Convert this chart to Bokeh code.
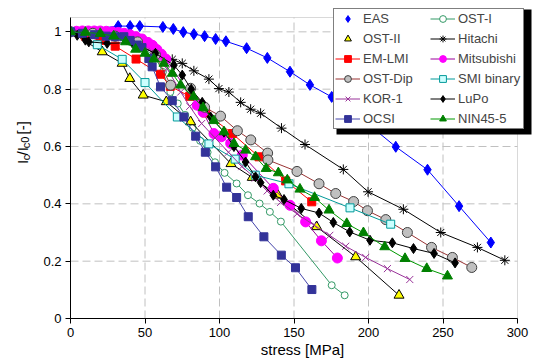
from bokeh.plotting import figure
from bokeh.layouts import row
from bokeh.models import Range1d, FixedTicker, Legend, LegendItem, Label, BoxAnnotation
from bokeh.embed import file_html
from bokeh.resources import INLINE

# ---------------- data ----------------
eas_x = [0, 32, 40, 46.5, 62, 69, 75.7, 82.8, 90, 97.4, 104.3, 118.2, 132.1, 147.3, 160.7, 175.3, 197, 218.3, 239.6, 260.8, 282.1]
eas_y = [1.0, 1.02, 1.02, 1.02, 1.017, 1.01, 0.999, 0.992, 0.985, 0.975, 0.967, 0.943, 0.909, 0.861, 0.815, 0.773, 0.69, 0.599, 0.519, 0.392, 0.265]

osti_x = [0, 10, 20, 30, 40, 50, 57, 62, 67, 72, 77, 82, 87, 92, 97, 103.4, 111.5, 119.1, 126.9, 133.8, 141.2, 175.3, 184.0]
osti_y = [1.0, 0.995, 0.99, 0.98, 0.965, 0.94, 0.91, 0.86, 0.79, 0.75, 0.71, 0.665, 0.62, 0.58, 0.545, 0.508, 0.471, 0.43, 0.401, 0.372, 0.338, 0.116, 0.081]

ostii_x = [0, 21.3, 34.7, 39.8, 48.8, 64.3, 80.6, 107.7, 122, 139.2, 165.2, 191.4, 220.5]
ostii_y = [1.0, 0.93, 0.89, 0.837, 0.779, 0.756, 0.686, 0.54, 0.492, 0.43, 0.32, 0.215, 0.081]

hit_x = [0, 20, 40, 50, 60.4, 68.3, 75, 82.8, 92.9, 99.6, 106.3, 114.2, 120.9, 127.6, 141.6, 157.4, 183.1, 199.7, 223.4, 248.5, 273.1, 291.5]
hit_y = [1.0, 0.99, 0.975, 0.955, 0.925, 0.904, 0.89, 0.864, 0.835, 0.802, 0.79, 0.754, 0.73, 0.716, 0.664, 0.607, 0.52, 0.442, 0.381, 0.30, 0.248, 0.203]

emlmi_x = [0, 10, 20, 30, 44, 60.4, 67, 80, 90.7, 108.6, 126.5, 144.4, 161.9]
emlmi_y = [1.0, 0.985, 0.97, 0.95, 0.905, 0.852, 0.81, 0.775, 0.717, 0.645, 0.564, 0.48, 0.407]

mit_x = [0, 4, 8, 12, 16, 20, 24, 28, 32, 36, 40, 44, 48, 52, 55, 58, 61, 64, 85, 89, 96.3, 101.2, 107.5, 115.3, 136.1, 147.3, 157.8, 168.4, 179.1]
mit_y = [1.0, 1.002, 1.003, 1.003, 1.003, 1.003, 1.002, 1.0, 0.998, 0.995, 0.99, 0.983, 0.975, 0.963, 0.953, 0.938, 0.922, 0.905, 0.744, 0.72, 0.645, 0.634, 0.611, 0.57, 0.454, 0.395, 0.337, 0.271, 0.211]

dip_x = [0, 15, 30, 45, 57, 67.2, 80.6, 90, 100.7, 112, 121, 132.3, 132.5, 152, 166.8, 178, 190, 199.3, 211.6, 226.1, 242.3, 256.3, 269.3]
dip_y = [1.0, 0.995, 0.985, 0.965, 0.92, 0.814, 0.803, 0.737, 0.706, 0.655, 0.623, 0.577, 0.553, 0.513, 0.47, 0.436, 0.408, 0.376, 0.345, 0.30, 0.248, 0.213, 0.178]

smi_x = [0, 18, 34.7, 50, 71.7, 92.9, 110.5, 124, 146.6, 187.6, 214.9]
smi_y = [1.0, 0.955, 0.904, 0.823, 0.703, 0.609, 0.556, 0.50, 0.47, 0.386, 0.329]

kor_x = [0, 20, 40, 55, 65, 74, 80, 88, 97, 106, 115, 124, 132, 141, 152, 163.4, 174, 184.7, 198.1, 212.7, 227.7]
kor_y = [1.0, 0.99, 0.97, 0.93, 0.87, 0.79, 0.74, 0.68, 0.63, 0.58, 0.53, 0.49, 0.445, 0.405, 0.365, 0.326, 0.29, 0.252, 0.213, 0.174, 0.136]

lupo_x = [0, 4.5, 10, 12.3, 24.6, 41.4, 57, 69.4, 75, 81, 88.4, 94, 103, 109.7, 117.5, 124.2, 127.6, 136.1, 143.3, 154.9, 166.8, 176.4, 187.4, 201, 216, 230.2, 244, 258.1]
lupo_y = [1.0, 0.988, 0.971, 0.965, 0.96, 0.962, 0.925, 0.884, 0.849, 0.80, 0.754, 0.703, 0.65, 0.60, 0.546, 0.494, 0.474, 0.43, 0.415, 0.384, 0.368, 0.335, 0.302, 0.273, 0.264, 0.244, 0.227, 0.194]

ocsi_x = [0, 8, 16, 24, 30, 35.8, 40, 44.8, 48, 52.6, 54.8, 60.4, 68.3, 76.1, 84, 90.5, 97.4, 104.8, 111.5, 119.3, 129.8, 141.5, 151, 162]
ocsi_y = [1.0, 0.995, 0.99, 0.985, 0.983, 0.983, 0.97, 0.954, 0.945, 0.907, 0.878, 0.808, 0.76, 0.703, 0.636, 0.58, 0.529, 0.458, 0.422, 0.355, 0.285, 0.221, 0.177, 0.101]

nin_x = [0, 10, 20, 29, 37, 43.7, 50, 56, 62.7, 68.3, 73.9, 82.6, 89, 96.2, 103, 109.7, 117.5, 124.2, 131.3, 139.5, 145.5, 154, 163.8, 173.5, 185.4, 196.6, 210.9, 224.5, 239.1, 253]
nin_y = [1.0, 0.998, 0.994, 0.985, 0.965, 0.939, 0.925, 0.905, 0.89, 0.855, 0.814, 0.773, 0.735, 0.69, 0.651, 0.61, 0.587, 0.564, 0.523, 0.508, 0.483, 0.451, 0.422, 0.378, 0.331, 0.299, 0.25, 0.209, 0.174, 0.148]

x_ticks = [0, 50, 100, 150, 200, 250, 300]
y_ticks = [0, 0.2, 0.4, 0.6, 0.8, 1.0]
y_tick_labels = ["0", "0.2", "0.4", "0.6", "0.8", "1"]
x_min, x_max = 0, 300
y_min, y_max = 0, 1.05
x_title = "stress [MPa]"
# y title "Ic/Ic0 [-]" with subscripts: (text, is_subscript)
y_title_parts = [("I", False), ("c", True), ("/I", False), ("c0", True), (" [-]", False)]

FONT = "Liberation Sans"

# name, xs, ys, marker, size, fill, marker line, line color, legend shows line
series = [
    ("EAS", eas_x, eas_y, "diamond", 11, "#0000FF", "#0000FF", "#0000FF", False),
    ("OST-I", osti_x, osti_y, "circle", 7, "white", "#339966", "#339966", True),
    ("OST-II", ostii_x, ostii_y, "triangle", 10, "#FFFF00", "black", "black", False),
    ("Hitachi", hit_x, hit_y, "asterisk", 10, "black", "black", "black", True),
    ("EM-LMI", emlmi_x, emlmi_y, "square", 8, "#FF0000", "#FF0000", "#FF0000", True),
    ("Mitsubishi", mit_x, mit_y, "circle", 10, "#FF00FF", "#FF00FF", "#990099", True),
    ("OST-Dip", dip_x, dip_y, "circle", 10, "#C0C0C0", "#404040", "#993333", True),
    ("SMI binary", smi_x, smi_y, "square", 8, "#CCFFFF", "#009999", "#009999", True),
    ("KOR-1", kor_x, kor_y, "x", 10, "#993399", "#993399", "#993399", True),
    ("LuPo", lupo_x, lupo_y, "diamond", 10, "black", "black", "black", True),
    ("OCSI", ocsi_x, ocsi_y, "square", 8, "#333399", "#333399", "#4444AA", True),
    ("NIN45-5", nin_x, nin_y, "triangle", 10, "#008000", "#008000", "#009900", True),
]

# ---------------- layout (pixels) ----------------
W, H = 534, 364
TITLE_W = 40                # narrow strip holding the rotated y title
LEFT, BOTTOM = 70, 46       # plot area starts at x=70 and ends 46 px above the bottom
AREA_W, AREA_H = 447, 301   # plot area size for 0..300 x 0..1.05
main_w = W - TITLE_W
frame_w, frame_h = W - LEFT, H - BOTTOM
view_x_end = x_max * frame_w / AREA_W
view_y_end = y_max * frame_h / AREA_H

# ---- y-title strip ----
tf = figure(width=TITLE_W, height=H, output_backend="svg", toolbar_location=None,
            x_range=Range1d(0, TITLE_W), y_range=Range1d(0, H),
            x_axis_type=None, y_axis_type=None,
            min_border_left=0, min_border_right=0, min_border_top=0, min_border_bottom=0)
tf.outline_line_color = None
tf.grid.visible = False
tf.background_fill_color = "white"
tf.border_fill_color = "white"

main_fs, sub_fs = 15, 11
char_w = {"I": 0.278, "c": 0.5, "/": 0.278, "0": 0.556, " ": 0.278, "[": 0.278, "-": 0.333, "]": 0.278}
lengths = [sum(char_w[c] for c in t) * (sub_fs if s else main_fs) for t, s in y_title_parts]
total = sum(lengths)
centre_y = BOTTOM + AREA_H / 2 + 4
pos = centre_y - total / 2
for (txt, sub), ln in zip(y_title_parts, lengths):
    fs = sub_fs if sub else main_fs
    shown = txt.lstrip(" ")
    lead = (len(txt) - len(shown)) * char_w[" "] * fs
    tf.add_layout(Label(x=(25 if sub else 22), y=pos + lead, text=shown, angle=1.5708,
                        text_font=FONT, text_font_size=f"{fs}px",
                        text_color="black", text_baseline="alphabetic", text_align="left"))
    pos += ln

# ---- main plot ----
p = figure(width=main_w, height=H, output_backend="svg", toolbar_location=None,
           x_range=Range1d(x_min, view_x_end), y_range=Range1d(y_min, view_y_end),
           min_border_left=LEFT - TITLE_W, min_border_right=0, min_border_top=0,
           min_border_bottom=BOTTOM)

p.outline_line_color = None
p.background_fill_color = "white"
p.border_fill_color = "white"

for ax in (p.xaxis[0], p.yaxis[0]):
    ax.axis_line_color = "black"
    ax.major_tick_line_color = "black"
    ax.major_tick_out = 5
    ax.major_tick_in = 0
    ax.minor_tick_line_color = None
    ax.major_label_text_font = FONT
    ax.major_label_text_font_size = "13px"
    ax.major_label_text_color = "black"

p.xaxis.bounds = (x_min, x_max)
p.yaxis.bounds = (y_min, y_max)
p.xaxis.ticker = FixedTicker(ticks=x_ticks)
p.yaxis.ticker = FixedTicker(ticks=y_ticks)
p.yaxis.major_label_overrides = {t: l for t, l in zip(y_ticks, y_tick_labels)}
p.xaxis.major_label_standoff = 4
p.yaxis.major_label_standoff = 4
p.xaxis.axis_label = x_title
p.xaxis.axis_label_text_font = FONT
p.xaxis.axis_label_text_font_size = "15px"
p.xaxis.axis_label_text_font_style = "normal"
p.xaxis.axis_label_text_color = "black"
p.xaxis.axis_label_standoff = 1

# dashed grid limited to the plot area
p.xgrid.visible = False
p.ygrid.visible = False
gx = x_ticks[1:-1]
p.segment(x0=gx, y0=[y_min] * len(gx), x1=gx, y1=[y_max] * len(gx),
          line_color="#C0C0C0", line_dash="8 4", line_width=1)
gy = y_ticks[1:]
p.segment(x0=[x_min] * len(gy), y0=gy, x1=[x_max] * len(gy), y1=gy,
          line_color="#C0C0C0", line_dash="8 4", line_width=1)

# plot-area border (top / right gray)
p.add_layout(BoxAnnotation(left=x_min, right=x_max, bottom=y_min, top=y_max,
                           fill_alpha=0, line_color="#808080", line_width=1, level="underlay"))

items = {}
for name, xs, ys, mk, sz, fill, mline, lcol, show_line in series:
    lr = p.line(xs, ys, line_color=lcol, line_width=1)
    sr = p.scatter(xs, ys, marker=mk, size=sz, fill_color=fill, line_color=mline, line_width=1)
    items[name] = [lr, sr] if show_line else [sr]

order = ["EAS", "OST-II", "EM-LMI", "OST-Dip", "KOR-1", "OCSI",
         "OST-I", "Hitachi", "Mitsubishi", "SMI binary", "LuPo", "NIN45-5"]

# legend box: canvas x 333..~528, y 6..~131 ; black drop shadow offset 3 px
FB = H - BOTTOM   # frame bottom in canvas px
LG_LEFT, LG_BOTTOM = 333 - LEFT, FB - 129
shadow = BoxAnnotation(left=336 - LEFT, right=531 - LEFT, bottom=FB - 134, top=FB - 9,
                       left_units="screen", right_units="screen",
                       bottom_units="screen", top_units="screen",
                       fill_color="black", fill_alpha=1.0, line_alpha=0)
p.add_layout(shadow)

legend = Legend(items=[LegendItem(label=n, renderers=items[n]) for n in order],
                ncols=2, location=(LG_LEFT, LG_BOTTOM),
                label_text_font=FONT, label_text_font_size="13px",
                glyph_width=25, glyph_height=17, label_height=17, label_width=64,
                label_standoff=3, spacing=3, padding=1, margin=0,
                border_line_color="black", border_line_width=1,
                background_fill_color="white", background_fill_alpha=1.0)
p.add_layout(legend, "center")

layout = row(tf, p, spacing=0)
open("out.html", "w").write(file_html(layout, INLINE))
